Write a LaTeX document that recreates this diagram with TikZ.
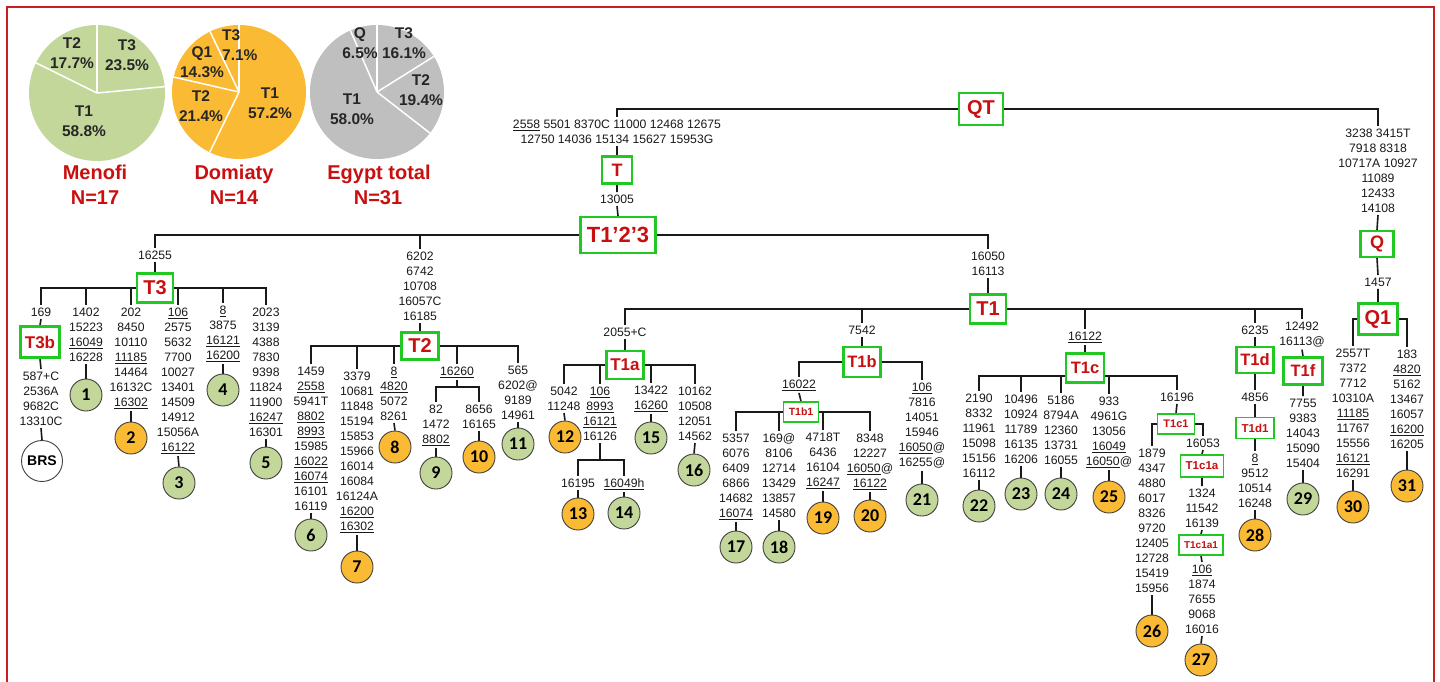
\documentclass[tikz,border=0pt]{standalone}
\usepackage{fontspec}
\setmainfont{Liberation Sans}
\newfontfamily\calfont{Carlito}
\usetikzlibrary{positioning,backgrounds}
\definecolor{hapred}{RGB}{200,16,16}
\definecolor{hapgreen}{RGB}{34,200,34}
\definecolor{pgreen}{RGB}{196,215,155}
\definecolor{porange}{RGB}{251,186,52}
\definecolor{pgray}{RGB}{191,191,191}
\definecolor{framered}{RGB}{200,30,30}
\newcommand\un[1]{\underline{#1}}
\newcommand\hapsize[1]{\fontsize{#1}{#1}\selectfont}
\tikzset{
  hap/.style={draw=hapgreen, line width=2.3pt, fill=white, text=hapred, inner sep=1pt,
    font=\bfseries\hapsize{20}, minimum width=36pt, minimum height=29pt},
  subhap/.style={hap, line width=1.8pt, font=\bfseries\hapsize{11}, minimum width=37pt, minimum height=20pt},
  muts/.style={align=center, anchor=north, inner xsep=1pt, inner ysep=2.5pt, text=black!90,
    font=\fontsize{12.2}{15}\selectfont},
  samp/.style={circle, draw=black!75, line width=0.9pt, minimum size=32pt, inner sep=0pt,
    font=\calfont\bfseries\hapsize{18}},
  link/.style={line width=1.6pt, draw=black!90},
  slice/.style={white, line width=1.5pt},
  pielab/.style={align=center, inner sep=0pt, text=black!85, font=\bfseries\fontsize{15.5}{20}\selectfont},
  pietitle/.style={anchor=base, inner sep=0pt, text=hapred, font=\bfseries\hapsize{20}}
}
\begin{document}
\begin{tikzpicture}[x=1pt, y=-1pt]
\useasboundingbox (0,0) rectangle (1440,681);
\draw[framered, line width=2.5pt] (7,7) rectangle (1434,720);

% pies
\coordinate (pMen) at (97,93); \coordinate (pDom) at (239,92); \coordinate (pEgy) at (377,92);
\fill[pgreen] (pMen) circle (68pt);
\foreach \a in {90,5.4,153.7} \draw[slice] (pMen) -- ++(\a:68pt);
\fill[porange] (pDom) circle (67pt);
\foreach \a in {90,-115.9,167.1,115.6} \draw[slice] (pDom) -- ++(\a:67pt);
\fill[pgray] (pEgy) circle (67pt);
\foreach \a in {90,32,-37.8,113.4} \draw[slice] (pEgy) -- ++(\a:67pt);
\node[pielab] (lMenT2) at (72,53) {T2\\17.7\%};
\node[pielab] (lMenT3) at (127,55) {T3\\23.5\%};
\node[pielab] (lMenT1) at (84,121) {T1\\58.8\%};
\node[pielab, align=left, anchor=west] (lDomT3) at (222,45) {T3\\7.1\%};
\node[pielab] (lDomQ1) at (202,62) {Q1\\14.3\%};
\node[pielab] (lDomT2) at (201,106) {T2\\21.4\%};
\node[pielab] (lDomT1) at (270,103) {T1\\57.2\%};
\node[pielab] (lEgyQ) at (360,43) {Q\\6.5\%};
\node[pielab] (lEgyT3) at (404,43) {T3\\16.1\%};
\node[pielab] (lEgyT2) at (421,90) {T2\\19.4\%};
\node[pielab] (lEgyT1) at (352,109) {T1\\58.0\%};
\node[pietitle] (tMen) at (95,179) {Menofi};
\node[pietitle] (nMen) at (95,204) {N=17};
\node[pietitle] (tDom) at (234,179) {Domiaty};
\node[pietitle] (nDom) at (234,204) {N=14};
\node[pietitle] (tEgy) at (379,179) {Egypt total};
\node[pietitle] (nEgy) at (378,204) {N=31};

% haplogroup boxes
\node[hap, minimum width=44pt, minimum height=32pt] (QT) at (981,109) {QT};
\node[hap, font=\bfseries\hapsize{18}, minimum width=30pt, minimum height=27pt] (T) at (617,170) {T};
\node[hap, font=\bfseries\hapsize{22}, minimum width=75pt, minimum height=36pt] (T123) at (618,235) {T1’2’3};
\node[hap] (T3) at (155,288) {T3};
\node[hap, font=\bfseries\hapsize{17}, minimum width=39pt, minimum height=31pt] (T3b) at (40,342) {T3b};
\node[hap, minimum width=37pt, minimum height=27pt] (T2) at (420,346) {T2};
\node[hap] (T1) at (988,309) {T1};
\node[hap, font=\bfseries\hapsize{17}, minimum width=37pt, minimum height=28pt] (T1a) at (625,365) {T1a};
\node[hap, font=\bfseries\hapsize{16.5}, minimum width=37pt, minimum height=30pt] (T1b) at (862,362) {T1b};
\node[subhap, font=\bfseries\hapsize{10.5}, minimum width=35pt] (T1b1) at (801,412) {T1b1};
\node[hap, font=\bfseries\hapsize{16.5}, minimum width=38pt, minimum height=29pt] (T1c) at (1085,368) {T1c};
\node[subhap] (T1c1) at (1176,424) {T1c1};
\node[subhap, font=\bfseries\hapsize{11.5}, minimum width=43pt, minimum height=22pt] (T1c1a) at (1202,466) {T1c1a};
\node[subhap, font=\bfseries\hapsize{10}, minimum width=44pt] (T1c1a1) at (1201,545) {T1c1a1};
\node[hap, font=\bfseries\hapsize{16.5}, minimum width=37pt, minimum height=26pt] (T1d) at (1255,360) {T1d};
\node[subhap, font=\bfseries\hapsize{11.5}, minimum width=38pt, minimum height=21pt] (T1d1) at (1255,428) {T1d1};
\node[hap, font=\bfseries\hapsize{16.5}, minimum width=39pt, minimum height=27pt] (T1f) at (1303,371) {T1f};
\node[hap, font=\bfseries\hapsize{18}, minimum width=33pt, minimum height=26pt] (Q) at (1377,244) {Q};
\node[hap, minimum width=39pt, minimum height=31pt] (Q1) at (1378,319) {Q1};

% mutations
\node[muts] (mT) at (617,117) {\un{2558} 5501 8370C 11000 12468 12675\\12750 14036 15134 15627 15953G};
\node[muts] (mT123) at (617,192) {13005};
\node[muts] (mQ) at (1378,126) {3238 3415T\\7918 8318\\10717A 10927\\11089\\12433\\14108};
\node[muts] (mQ1) at (1378,275) {1457};
\node[muts] (mT3) at (155,248) {16255};
\node[muts] (mT2) at (420,249) {6202\\6742\\10708\\16057C\\16185};
\node[muts] (mT1) at (988,249) {16050\\16113};
\node[muts] (mT3b) at (41,305) {169};
\node[muts] (mBRS) at (41,369) {587+C\\2536A\\9682C\\13310C};
\node[muts] (mut1) at (86,305) {1402\\15223\\\un{16049}\\16228};
\node[muts] (mut2) at (131,305) {202\\8450\\10110\\\un{11185}\\14464\\16132C\\\un{16302}};
\node[muts] (mut3) at (178,305) {\un{106}\\2575\\5632\\7700\\10027\\13401\\14509\\14912\\15056A\\\un{16122}};
\node[muts] (mut4) at (223,303) {\un{8}\\3875\\\un{16121}\\\un{16200}};
\node[muts] (mut5) at (266,305) {2023\\3139\\4388\\7830\\9398\\11824\\11900\\\un{16247}\\16301};
\node[muts] (mut6) at (311,364) {1459\\\un{2558}\\5941T\\\un{8802}\\\un{8993}\\15985\\\un{16022}\\\un{16074}\\16101\\16119};
\node[muts] (mut7) at (357,369) {3379\\10681\\11848\\15194\\15853\\15966\\16014\\16084\\16124A\\\un{16200}\\\un{16302}};
\node[muts] (mut8) at (394,364) {\un{8}\\\un{4820}\\5072\\8261};
\node[muts] (m910) at (457,364) {\un{16260}};
\coordinate (j910) at (457,387);
\node[muts] (mut9) at (436,402) {82\\1472\\\un{8802}};
\node[muts] (mut10) at (479,402) {8656\\16165};
\node[muts] (mut11) at (518,363) {565\\6202@\\9189\\14961};
\node[muts] (mT1a) at (625,325) {2055+C};
\node[muts] (mT1b) at (862,323) {7542};
\node[muts] (mT1c) at (1085,329) {\un{16122}};
\node[muts] (mT1d) at (1255,323) {6235};
\node[muts] (mT1f) at (1302,319) {12492\\16113@};
\node[muts] (mut12) at (564,384) {5042\\11248};
\node[muts] (m1314) at (600,384) {\un{106}\\\un{8993}\\\un{16121}\\16126};
\coordinate (j1314) at (600,460);
\node[muts] (mut13) at (578,476) {16195};
\node[muts] (mut14) at (624,476) {\un{16049h}};
\node[muts] (mut15) at (651,383) {13422\\\un{16260}};
\node[muts] (mut16) at (695,384) {10162\\10508\\12051\\14562};
\node[muts] (mT1b1) at (799,377) {\un{16022}};
\node[muts] (mut17) at (736,431) {5357\\6076\\6409\\6866\\14682\\\un{16074}};
\node[muts] (mut18) at (779,431) {169@\\8106\\12714\\13429\\13857\\14580};
\node[muts] (mut19) at (823,430) {4718T\\6436\\16104\\\un{16247}};
\node[muts] (mut20) at (870,431) {8348\\12227\\\un{16050}@\\\un{16122}};
\node[muts] (mut21) at (922,380) {\un{106}\\7816\\14051\\15946\\\un{16050}@\\16255@};
\node[muts] (mut22) at (979,391) {2190\\8332\\11961\\15098\\15156\\16112};
\node[muts] (mut23) at (1021,392) {10496\\10924\\11789\\16135\\16206};
\node[muts] (mut24) at (1061,393) {5186\\8794A\\12360\\13731\\16055};
\node[muts] (mut25) at (1109,394) {933\\4961G\\13056\\\un{16049}\\\un{16050}@};
\node[muts] (mT1c1) at (1177,390) {16196};
\node[muts] (mut26) at (1152,446) {1879\\4347\\4880\\6017\\8326\\9720\\12405\\12728\\15419\\15956};
\node[muts] (mT1c1a) at (1203,436) {16053};
\node[muts] (mT1c1a1) at (1202,486) {1324\\11542\\16139};
\node[muts] (mut27) at (1202,562) {\un{106}\\1874\\7655\\9068\\16016};
\node[muts] (mT1d1) at (1255,390) {4856};
\node[muts] (mut28) at (1255,451) {\un{8}\\9512\\10514\\16248};
\node[muts] (mut29) at (1303,396) {7755\\9383\\14043\\15090\\15404};
\node[muts] (mut30) at (1353,346) {2557T\\7372\\7712\\10310A\\\un{11185}\\11767\\15556\\\un{16121}\\16291};
\node[muts] (mut31) at (1407,347) {183\\\un{4820}\\5162\\13467\\16057\\\un{16200}\\16205};

% samples
\node[samp, fill=white, minimum size=41pt, font=\bfseries\hapsize{14}] (BRS) at (42,461) {BRS};
\foreach \n/\x/\y/\f in {1/86/395/pgreen, 2/131/438/porange, 3/179/483/pgreen, 4/223/390/pgreen,
  5/266/463/pgreen, 6/311/535/pgreen, 7/357/567/porange, 8/395/447/porange, 9/436/473/pgreen,
  10/479/457/porange, 11/518/444/pgreen, 12/565/437/porange, 13/578/514/porange, 14/624/513/pgreen,
  15/651/438/pgreen, 16/694/470/pgreen, 17/736/547/pgreen, 18/779/547/pgreen, 19/823/518/porange,
  20/870/516/porange, 21/922/500/pgreen, 22/979/506/pgreen, 23/1021/494/pgreen, 24/1061/494/pgreen,
  25/1109/497/porange, 26/1152/631/porange, 27/1201/660/porange, 28/1255/535/porange,
  29/1303/499/pgreen, 30/1353/507/porange, 31/1407/486/porange}
  \node[samp, fill=\f] (s\n) at (\x,\y) {\n};

% tree links
\begin{scope}[on background layer]
\begin{scope}[link]
\draw (QT.center) -| (mT.north) (QT.center) -| (mQ.north);
\draw (mT.south) -- (T.north) (T.south) -- (mT123.north) (mT123.south) -- (T123.north);
\foreach \c in {mT3,mT2,mT1} \draw (T123.center) -| (\c.north);
\draw (mT3.south) -- (T3.north) (mT2.south) -- (T2.north) (mT1.south) -- (T1.north);
\foreach \c in {mT3b,mut1,mut2,mut3,mut4,mut5} \draw (T3.center) -| (\c.north);
\draw (mT3b.south) -- (T3b.north) (T3b.south) -- (mBRS.north) (mBRS.south) -- (BRS.north);
\foreach \c in {mut6,mut7,mut8,m910,mut11} \draw (T2.center) -| (\c.north);
\draw (m910.south) -- (j910);
\foreach \c in {mut9,mut10} \draw (j910) -| (\c.north);
\foreach \c in {mT1a,mT1b,mT1c,mT1d,mT1f} \draw (T1.center) -| (\c.north);
\draw (mT1a.south) -- (T1a.north);
\foreach \c in {mut12,m1314,mut15,mut16} \draw (T1a.center) -| (\c.north);
\draw (m1314.south) -- (j1314);
\foreach \c in {mut13,mut14} \draw (j1314) -| (\c.north);
\draw (mT1b.south) -- (T1b.north);
\foreach \c in {mT1b1,mut21} \draw (T1b.center) -| (\c.north);
\draw (mT1b1.south) -- (T1b1.north);
\foreach \c in {mut17,mut18,mut19,mut20} \draw (T1b1.center) -| (\c.north);
\draw (mT1c.south) -- (T1c.north);
\foreach \c in {mut22,mut23,mut24,mut25,mT1c1} \draw ([yshift=-8pt]T1c.center) -| (\c.north);
\draw (mT1c1.south) -- (T1c1.north);
\foreach \c in {mut26,mT1c1a} \draw (T1c1.center) -| (\c.north);
\draw (mT1c1a.south) -- (T1c1a.north) (T1c1a.south) -- (mT1c1a1.north)
      (mT1c1a1.south) -- (T1c1a1.north) (T1c1a1.south) -- (mut27.north);
\draw (mT1d.south) -- (T1d.north) (T1d.south) -- (mT1d1.north) (mT1d1.south) -- (T1d1.north)
      (T1d1.south) -- (mut28.north);
\draw (mT1f.south) -- (T1f.north) (T1f.south) -- (mut29.north);
\draw (mQ.south) -- (Q.north) (Q.south) -- (mQ1.north) (mQ1.south) -- (Q1.north);
\foreach \c in {mut30,mut31} \draw (Q1.center) -| (\c.north);
\foreach \n in {1,...,31} \draw (mut\n.south) -- (s\n.north);
\end{scope}
\end{scope}
\end{tikzpicture}
\end{document}
